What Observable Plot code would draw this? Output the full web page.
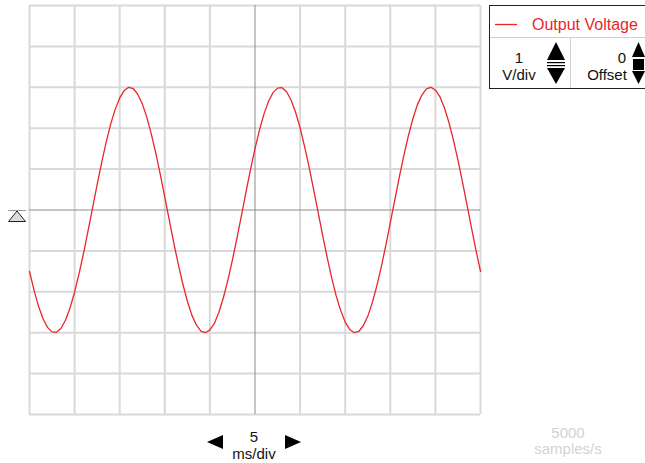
<!DOCTYPE html>
<html><head><meta charset="utf-8">
<script src="https://cdn.jsdelivr.net/npm/d3@7"></script>
<script src="https://cdn.jsdelivr.net/npm/@observablehq/plot@0.6"></script>
<style>body{margin:0;background:#fff;}</style>
</head><body><div id="chart"></div>
<script>
const timeMs = [0,0.5,1,1.5,2,2.5,3,3.5,4,4.5,5,5.5,6,6.5,7,7.5,8,8.5,9,9.5,10,10.5,11,11.5,12,12.5,13,13.5,14,14.5,15,15.5,16,16.5,17,17.5,18,18.5,19,19.5,20,20.5,21,21.5,22,22.5,23,23.5,24,24.5,25,25.5,26,26.5,27,27.5,28,28.5,29,29.5,30,30.5,31,31.5,32,32.5,33,33.5,34,34.5,35,35.5,36,36.5,37,37.5,38,38.5,39,39.5,40,40.5,41,41.5,42,42.5,43,43.5,44,44.5,45,45.5,46,46.5,47,47.5,48,48.5,49,49.5,50];
const voltage = [-1.50,-1.96,-2.35,-2.66,-2.87,-2.98,-2.99,-2.89,-2.69,-2.39,-2.01,-1.55,-1.05,-0.50,0.06,0.62,1.16,1.66,2.10,2.46,2.74,2.92,3.00,2.97,2.83,2.60,2.27,1.86,1.39,0.87,0.31,-0.25,-0.81,-1.33,-1.81,-2.23,-2.57,-2.81,-2.96,-3.00,-2.93,-2.77,-2.50,-2.14,-1.71,-1.22,-0.69,-0.13,0.44,0.99,1.50,1.96,2.35,2.66,2.87,2.98,2.99,2.89,2.69,2.39,2.01,1.55,1.05,0.50,-0.06,-0.62,-1.16,-1.66,-2.10,-2.46,-2.74,-2.92,-3.00,-2.97,-2.83,-2.60,-2.27,-1.86,-1.39,-0.87,-0.31,0.25,0.81,1.33,1.81,2.23,2.57,2.81,2.96,3.00,2.93,2.77,2.50,2.14,1.71,1.22,0.69,0.13,-0.44,-0.99,-1.50];
const xTicks = [0,5,10,15,20,25,30,35,40,45,50];
const yTicks = [-5,-4,-3,-2,-1,0,1,2,3,4,5];
const seriesName = "Output Voltage";
const voltsPerDiv = "1", voltsUnit = "V/div";
const offsetValue = "0", offsetLabel = "Offset";
const timePerDiv = "5", timeUnit = "ms/div";
const sampleRate = "5000", sampleUnit = "samples/s";

const red = "#e8262b";
const data = timeMs.map((t, i) => ({t, v: voltage[i]}));

const chart = Plot.plot({
  width: 645, height: 463,
  marginLeft: 29, marginRight: 165, marginTop: 5, marginBottom: 49,
  style: {fontFamily: "'Liberation Sans', Arial, sans-serif"},
  x: {domain: [0, 50], axis: null},
  y: {domain: [-5, 5], axis: null},
  marks: [
    Plot.ruleX(xTicks.filter(d => d !== 25), {stroke: "#d9d9d9", strokeWidth: 2}),
    Plot.ruleY(yTicks.filter(d => d !== 0), {stroke: "#d9d9d9", strokeWidth: 2}),
    Plot.ruleX([25], {stroke: "#8c8c8c", strokeWidth: 1}),
    Plot.ruleY([0], {stroke: "#8c8c8c", strokeWidth: 1}),
    Plot.line(data, {x: "t", y: "v", stroke: red, strokeWidth: 1.3})
  ]
});

const svg = d3.select(chart);
const g = svg.append("g")
  .attr("text-anchor", "start")
  .style("font-family", "'Liberation Sans', Arial, sans-serif");

// legend / control box
g.append("rect").attr("x", 489.5).attr("y", 5.5).attr("width", 170).attr("height", 83)
  .attr("fill", "#fff").attr("stroke", "#222");
g.append("line").attr("x1", 490).attr("x2", 645).attr("y1", 37.5).attr("y2", 37.5).attr("stroke", "#cfcfcf");
g.append("line").attr("x1", 570.5).attr("x2", 570.5).attr("y1", 38).attr("y2", 88).attr("stroke", "#cfcfcf");
g.append("line").attr("x1", 495).attr("x2", 517).attr("y1", 24.5).attr("y2", 24.5).attr("stroke", red).attr("stroke-width", 1.3);
g.append("text").attr("x", 532).attr("y", 30).attr("text-anchor", "start").attr("font-size", 16).attr("fill", red).text(seriesName);

g.append("text").attr("x", 519).attr("y", 63).attr("text-anchor", "middle").attr("font-size", 15).attr("fill", "#111").text(voltsPerDiv);
g.append("text").attr("x", 519).attr("y", 80).attr("text-anchor", "middle").attr("font-size", 15).attr("fill", "#111").text(voltsUnit);
g.append("path").attr("d", "M547,60L565,60L556,42Z").attr("fill", "#000");
g.append("rect").attr("x", 547).attr("y", 62).attr("width", 18).attr("height", 1.2).attr("fill", "#000");
g.append("rect").attr("x", 547).attr("y", 65).attr("width", 18).attr("height", 1.2).attr("fill", "#000");
g.append("path").attr("d", "M547,68L565,68L556,84Z").attr("fill", "#000");

g.append("text").attr("x", 622).attr("y", 63).attr("text-anchor", "middle").attr("font-size", 15).attr("fill", "#111").text(offsetValue);
g.append("text").attr("x", 607).attr("y", 80).attr("text-anchor", "middle").attr("font-size", 15).attr("fill", "#111").text(offsetLabel);
g.append("path").attr("d", "M632,57L645,57L638.5,42Z").attr("fill", "#000");
g.append("rect").attr("x", 633).attr("y", 59).attr("width", 11).attr("height", 11).attr("fill", "#000");
g.append("path").attr("d", "M632,71L645,71L638.5,84Z").attr("fill", "#000");

// time base control
g.append("text").attr("x", 254).attr("y", 442).attr("text-anchor", "middle").attr("font-size", 15).attr("fill", "#111").text(timePerDiv);
g.append("text").attr("x", 254).attr("y", 459).attr("text-anchor", "middle").attr("font-size", 15).attr("fill", "#111").text(timeUnit);
g.append("path").attr("d", "M207,442L223,435L223,449Z").attr("fill", "#000");
g.append("path").attr("d", "M301,442L285,435L285,449Z").attr("fill", "#000");

// sample rate
g.append("text").attr("x", 568).attr("y", 438).attr("text-anchor", "middle").attr("font-size", 15).attr("fill", "#d3d3d3").text(sampleRate);
g.append("text").attr("x", 568).attr("y", 454).attr("text-anchor", "middle").attr("font-size", 15).attr("fill", "#d3d3d3").text(sampleUnit);

// zero marker
g.append("line").attr("x1", 8).attr("x2", 26).attr("y1", 210.5).attr("y2", 210.5).attr("stroke", "#999");
g.append("path").attr("d", "M8.5,221.5L25.5,221.5L17,211Z").attr("fill", "#dcdcdc").attr("stroke", "#222");

document.getElementById("chart").appendChild(chart);
</script>
</body></html>
